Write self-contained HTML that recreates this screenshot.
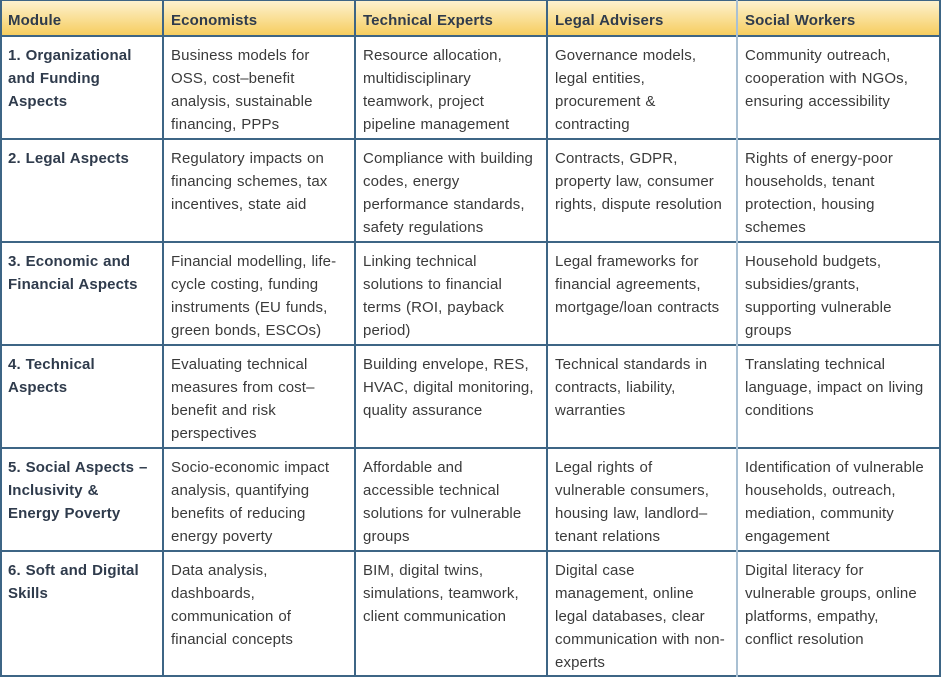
<!DOCTYPE html>
<html><head><meta charset="utf-8"><style>
body{margin:0;width:941px;height:679px;background:#fff;overflow:hidden}
.t{position:absolute;left:0;top:0;width:941px;height:679px}
.c{position:absolute;font-family:"Liberation Sans",Arial,sans-serif;font-size:15px;line-height:23px;color:#3a3a3a;word-spacing:0.6px;letter-spacing:0.12px;white-space:nowrap;margin-top:2px}
.b{font-weight:bold;color:#2f3b4c}
.h{position:absolute;left:0;top:0;width:941px;height:36px;background:linear-gradient(#fdf3d2,#f6cc5c)}
.hl{position:absolute;left:0;width:941px;height:2px;background:#3d6585}
.vl{position:absolute;top:0;width:2px;height:677px;background:#3d6585}
</style></head><body><div class="t">
<div class="h"></div>
<div class="hl" style="top:0;height:1px"></div>
<div class="hl" style="top:35px"></div>
<div class="hl" style="top:138px"></div>
<div class="hl" style="top:241px"></div>
<div class="hl" style="top:344px"></div>
<div class="hl" style="top:447px"></div>
<div class="hl" style="top:550px"></div>
<div class="hl" style="top:675px"></div>
<div class="vl" style="left:0"></div>
<div class="vl" style="left:162px"></div>
<div class="vl" style="left:354px"></div>
<div class="vl" style="left:546px"></div>
<div class="vl" style="left:736px;background:#a9c0d3"></div>
<div class="vl" style="left:939px"></div>

<div class="c b" style="left:8px;top:7px">Module</div>
<div class="c b" style="left:171px;top:7px">Economists</div>
<div class="c b" style="left:363px;top:7px">Technical Experts</div>
<div class="c b" style="left:555px;top:7px">Legal Advisers</div>
<div class="c b" style="left:745px;top:7px">Social Workers</div>

<div class="c b" style="left:8px;top:42px">1. Organizational<br>and Funding<br>Aspects</div>
<div class="c" style="left:171px;top:42px">Business models for<br>OSS, cost–benefit<br>analysis, sustainable<br>financing, PPPs</div>
<div class="c" style="left:363px;top:42px">Resource allocation,<br>multidisciplinary<br>teamwork, project<br>pipeline management</div>
<div class="c" style="left:555px;top:42px">Governance models,<br>legal entities,<br>procurement &amp;<br>contracting</div>
<div class="c" style="left:745px;top:42px">Community outreach,<br>cooperation with NGOs,<br>ensuring accessibility</div>

<div class="c b" style="left:8px;top:145px">2. Legal Aspects</div>
<div class="c" style="left:171px;top:145px">Regulatory impacts on<br>financing schemes, tax<br>incentives, state aid</div>
<div class="c" style="left:363px;top:145px">Compliance with building<br>codes, energy<br>performance standards,<br>safety regulations</div>
<div class="c" style="left:555px;top:145px">Contracts, GDPR,<br>property law, consumer<br>rights, dispute resolution</div>
<div class="c" style="left:745px;top:145px">Rights of energy-poor<br>households, tenant<br>protection, housing<br>schemes</div>

<div class="c b" style="left:8px;top:248px">3. Economic and<br>Financial Aspects</div>
<div class="c" style="left:171px;top:248px">Financial modelling, life-<br>cycle costing, funding<br>instruments (EU funds,<br>green bonds, ESCOs)</div>
<div class="c" style="left:363px;top:248px">Linking technical<br>solutions to financial<br>terms (ROI, payback<br>period)</div>
<div class="c" style="left:555px;top:248px">Legal frameworks for<br>financial agreements,<br>mortgage/loan contracts</div>
<div class="c" style="left:745px;top:248px">Household budgets,<br>subsidies/grants,<br>supporting vulnerable<br>groups</div>

<div class="c b" style="left:8px;top:351px">4. Technical<br>Aspects</div>
<div class="c" style="left:171px;top:351px">Evaluating technical<br>measures from cost–<br>benefit and risk<br>perspectives</div>
<div class="c" style="left:363px;top:351px">Building envelope, RES,<br>HVAC, digital monitoring,<br>quality assurance</div>
<div class="c" style="left:555px;top:351px">Technical standards in<br>contracts, liability,<br>warranties</div>
<div class="c" style="left:745px;top:351px">Translating technical<br>language, impact on living<br>conditions</div>

<div class="c b" style="left:8px;top:454px">5. Social Aspects –<br>Inclusivity &amp;<br>Energy Poverty</div>
<div class="c" style="left:171px;top:454px">Socio-economic impact<br>analysis, quantifying<br>benefits of reducing<br>energy poverty</div>
<div class="c" style="left:363px;top:454px">Affordable and<br>accessible technical<br>solutions for vulnerable<br>groups</div>
<div class="c" style="left:555px;top:454px">Legal rights of<br>vulnerable consumers,<br>housing law, landlord–<br>tenant relations</div>
<div class="c" style="left:745px;top:454px">Identification of vulnerable<br>households, outreach,<br>mediation, community<br>engagement</div>

<div class="c b" style="left:8px;top:557px">6. Soft and Digital<br>Skills</div>
<div class="c" style="left:171px;top:557px">Data analysis,<br>dashboards,<br>communication of<br>financial concepts</div>
<div class="c" style="left:363px;top:557px">BIM, digital twins,<br>simulations, teamwork,<br>client communication</div>
<div class="c" style="left:555px;top:557px">Digital case<br>management, online<br>legal databases, clear<br>communication with non-<br>experts</div>
<div class="c" style="left:745px;top:557px">Digital literacy for<br>vulnerable groups, online<br>platforms, empathy,<br>conflict resolution</div>
</div></body></html>
